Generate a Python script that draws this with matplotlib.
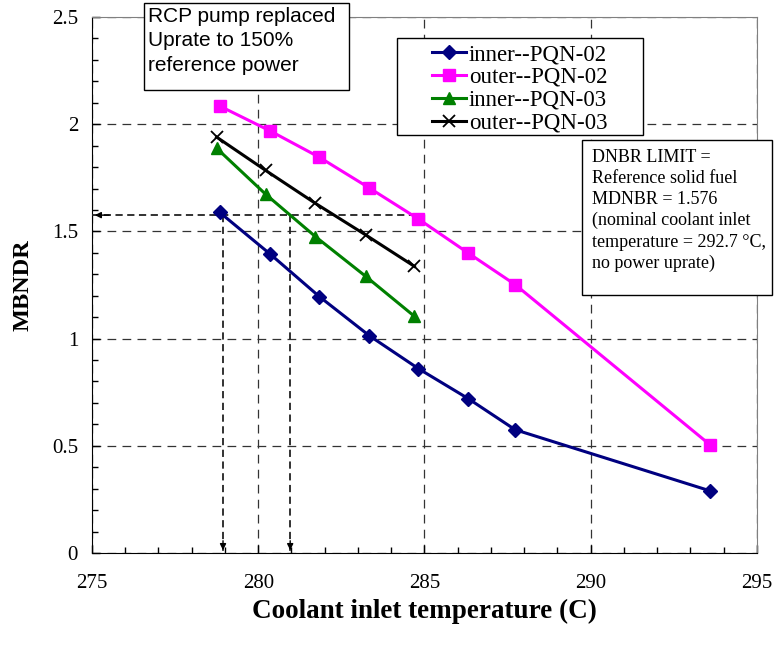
import numpy as np
import matplotlib
matplotlib.use("Agg")
import matplotlib.pyplot as plt
from matplotlib.ticker import MultipleLocator
from matplotlib.patches import Rectangle

# Data
x_inner02 = [278.84, 280.37, 281.84, 283.34, 284.82, 286.32, 287.73, 293.59]
y_inner02 = [1.589, 1.393, 1.196, 1.014, 0.860, 0.720, 0.575, 0.290]
x_outer02 = [278.84, 280.37, 281.84, 283.34, 284.82, 286.32, 287.73, 293.59]
y_outer02 = [2.085, 1.968, 1.846, 1.703, 1.558, 1.399, 1.252, 0.505]
x_pqn03 = [278.75, 280.22, 281.72, 283.23, 284.70]
y_inner03 = [1.888, 1.674, 1.476, 1.291, 1.104]
y_outer03 = [1.940, 1.785, 1.631, 1.484, 1.337]

DNBR_LIMIT = 1.576
LIMIT_LINE_END = 285

serif = ['Liberation Serif', 'DejaVu Serif']
sans = ['Liberation Sans', 'DejaVu Sans']
plt.rcParams['font.family'] = serif

W, H = 777, 646
fig = plt.figure(figsize=(W / 100, H / 100), dpi=100)
ax = fig.add_axes([0.1184, 0.144, 0.8556, 0.8296])


def box(x0, y0, x1, y1):
    # white box with black border, given in pixels from top-left
    ax.add_patch(Rectangle((x0 / W, 1 - y1 / H), (x1 - x0) / W, (y1 - y0) / H, transform=fig.transFigure,
                           facecolor='white', edgecolor='black', lw=1.0, clip_on=False, zorder=5))


ax.set_xlim(275, 295)
ax.set_ylim(0, 2.5)
ax.xaxis.set_major_locator(MultipleLocator(5))
ax.xaxis.set_minor_locator(MultipleLocator(1))
ax.yaxis.set_major_locator(MultipleLocator(0.5))
ax.yaxis.set_minor_locator(MultipleLocator(0.1))
ax.yaxis.set_major_formatter(plt.FuncFormatter(lambda v, p: f"{v:g}"))
ax.tick_params(which='both', direction='in', labelsize=15, top=False, right=False)
ax.tick_params(which='major', length=6, width=1)
ax.tick_params(which='minor', length=4, width=1)
ax.tick_params(axis='x', pad=15)
ax.tick_params(axis='y', pad=10)

ax.grid(which='major', linestyle=(0, (7, 5)), color='#333333', linewidth=0.9)
ax.set_axisbelow(True)
for s in ['top', 'right']:
    ax.spines[s].set_color('#808080')

ax.set_xlabel('Coolant inlet temperature (C)', fontsize=19.5, fontweight='bold', labelpad=4)
ax.set_ylabel('MBNDR', fontsize=17.5, fontweight='bold', labelpad=13)

lw = 2.2
ax.plot(x_inner02, y_inner02, color='#000080', lw=lw, marker='D', ms=7, label='inner--PQN-02', zorder=4)
ax.plot(x_outer02, y_outer02, color='#FF00FF', lw=lw, marker='s', ms=8, label='outer--PQN-02', zorder=4)
ax.plot(x_pqn03, y_inner03, color='#008000', lw=lw, marker='^', ms=8, label='inner--PQN-03', zorder=4)
ax.plot(x_pqn03, y_outer03, color='black', lw=lw, marker='x', ms=8, mew=1.3, label='outer--PQN-03', zorder=4)

# DNBR limit lines with arrowheads
x_cross_a = np.interp(DNBR_LIMIT, y_inner02[::-1], x_inner02[::-1])
x_cross_b = np.interp(DNBR_LIMIT, y_inner03[::-1], x_pqn03[::-1])
dash = (0, (4, 2.5))
ax.plot([275, LIMIT_LINE_END], [DNBR_LIMIT, DNBR_LIMIT], color='#222222', lw=1.3, ls=dash, zorder=3)
for xc in (x_cross_a, x_cross_b):
    ax.plot([xc, xc], [DNBR_LIMIT, 0], color='#222222', lw=1.3, ls=dash, zorder=3)
    ax.annotate('', xy=(xc, 0), xytext=(xc, 0.07),
                arrowprops=dict(arrowstyle='-|>', color='black', lw=1.0, mutation_scale=9), zorder=3)
ax.annotate('', xy=(275, DNBR_LIMIT), xytext=(275.6, DNBR_LIMIT),
            arrowprops=dict(arrowstyle='-|>', color='black', lw=1.0, mutation_scale=9), zorder=3)

# legend box drawn separately (wide side padding in the original)
box(397, 38, 643, 135)
leg = ax.legend(loc='upper left', bbox_to_anchor=(432 / W, 1 - 44 / H), bbox_transform=fig.transFigure,
                fontsize=16.5, frameon=False, handlelength=1.5, handletextpad=0.1,
                borderpad=0, labelspacing=0.08, borderaxespad=0)
leg.set_zorder(6)

box(144, 3, 349, 90)
fig.text(148 / W, 1 - 7 / H, 'RCP pump replaced\nUprate to 150%\nreference power', family=sans,
         fontsize=15, va='top', ha='left', linespacing=1.36, zorder=7)

box(582, 140, 772, 295)
fig.text(592 / W, 1 - 149 / H, 'DNBR LIMIT =\nReference solid fuel\nMDNBR = 1.576\n(nominal coolant inlet\n'
         'temperature = 292.7 \u00b0C,\nno power uprate)', fontsize=13, va='top', ha='left',
         linespacing=1.31, zorder=7)

fig.savefig('out.png', dpi=100)
